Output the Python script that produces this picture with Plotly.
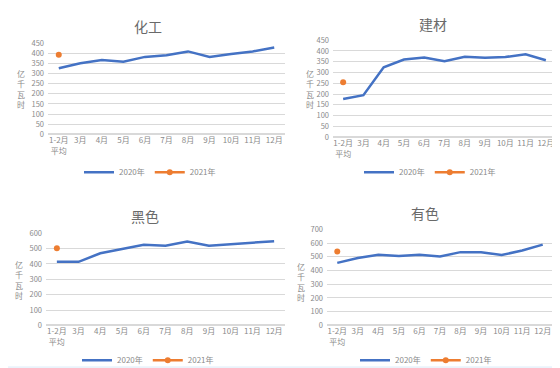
import plotly.graph_objects as go

months = ["1-2月<br>平均", "3月", "4月", "5月", "6月", "7月", "8月", "9月", "10月", "11月", "12月"]

huagong_2020 = [326, 351, 366, 358, 382, 390, 409, 382, 396, 409, 428]
huagong_2021 = [393]
jiancai_2020 = [177, 195, 324, 360, 370, 352, 373, 369, 372, 385, 357]
jiancai_2021 = [255]
heise_2020 = [414, 414, 470, 496, 525, 519, 546, 519, 529, 535, 548]
heise_2021 = [502]
youse_2020 = [456, 491, 515, 506, 515, 503, 534, 534, 513, 546, 589]
youse_2021 = [539]

titles = ["化工", "建材", "黑色", "有色"]
y_max = [450, 450, 600, 700]
y_dtick = [50, 50, 100, 100]

W, H = 560, 368
def px(x): return x / W
def py(y): return 1 - y / H

panels = [
    dict(x0=40, x1=277, yb=124, yt=30, tx=140, ty=12, ax=13, ay=77, lx=142, ly=163),
    dict(x0=325, x1=548, yb=127, yt=27, tx=425, ty=10, ax=302, ay=77, lx=422, ly=163),
    dict(x0=38, x1=277, yb=321, yt=226, tx=137, ty=208, ax=11, ay=274, lx=140, ly=357),
    dict(x0=319, x1=545, yb=321, yt=222, tx=417, ty=205, ax=293, ay=276, lx=418, ly=357),
]
data2020 = [huagong_2020, jiancai_2020, heise_2020, youse_2020]
data2021 = [huagong_2021, jiancai_2021, heise_2021, youse_2021]

FONT = "Noto Sans CJK SC"
GRAY = "#8a8a8a"
BLUE = "#4472c4"
ORANGE = "#ed7d31"

fig = go.Figure()
layout = dict(
    width=W, height=H, margin=dict(l=0, r=0, t=0, b=0),
    paper_bgcolor="white", plot_bgcolor="white",
    font=dict(family=FONT, color=GRAY, size=8),
    annotations=[], shapes=[],
)

for i, p in enumerate(panels):
    n = "" if i == 0 else str(i + 1)
    leg = "legend" if i == 0 else f"legend{i+1}"
    fig.add_trace(go.Scatter(
        x=months, y=data2020[i], mode="lines", name="2020年",
        line=dict(color=BLUE, width=2.5),
        xaxis="x" + n, yaxis="y" + n, legend=leg, hoverinfo="skip"))
    fig.add_trace(go.Scatter(
        x=months[:len(data2021[i])], y=data2021[i], mode="lines+markers", name="2021年",
        line=dict(color=ORANGE, width=2.5), marker=dict(color=ORANGE, size=6),
        xaxis="x" + n, yaxis="y" + n, legend=leg, hoverinfo="skip"))
    layout["xaxis" + n] = dict(
        domain=[px(p["x0"]), px(p["x1"])], anchor="y" + n,
        type="category", range=[-0.5, 10.5], showgrid=False,
        showline=False, ticks="", tickangle=0, tickfont=dict(size=8, color=GRAY),
        fixedrange=True)
    layout["yaxis" + n] = dict(
        domain=[py(p["yb"]), py(p["yt"])], anchor="x" + n,
        range=[0, y_max[i]], dtick=y_dtick[i], showgrid=True,
        gridcolor="#d9d9d9", gridwidth=1, zeroline=True, zerolinecolor="#d9d9d9",
        showline=False, ticks="", tickfont=dict(size=7.5, color=GRAY),
        ticklabelstandoff=3, fixedrange=True)
    layout[leg] = dict(
        orientation="h", x=px(p["lx"]), y=py(p["ly"]), xanchor="center", yanchor="middle",
        font=dict(size=8, color=GRAY, family=FONT), bgcolor="rgba(0,0,0,0)",
        itemwidth=30, tracegroupgap=0)
    layout["annotations"].append(dict(
        text=titles[i], x=px(p["tx"]), y=py(p["ty"]), xref="paper", yref="paper",
        showarrow=False, font=dict(size=14, color="#6a6a6a", family=FONT),
        xanchor="center", yanchor="middle"))
    layout["annotations"].append(dict(
        text="亿<br>千<br>瓦<br>时", x=px(p["ax"]), y=py(p["ay"]), xref="paper", yref="paper",
        showarrow=False, font=dict(size=8, color=GRAY, family=FONT),
        xanchor="center", yanchor="middle"))

layout["shapes"].append(dict(type="rect", xref="paper", yref="paper",
                             x0=0, x1=1, y0=0, y1=py(363), fillcolor="#eaf3fb", line=dict(width=0),
                             layer="below"))
layout["shapes"].append(dict(type="rect", xref="paper", yref="paper",
                             x0=px(555.5), x1=px(558), y0=py(363), y1=1, fillcolor="#111111",
                             line=dict(width=0)))

fig.update_layout(**layout)
fig.write_html("out.html")
